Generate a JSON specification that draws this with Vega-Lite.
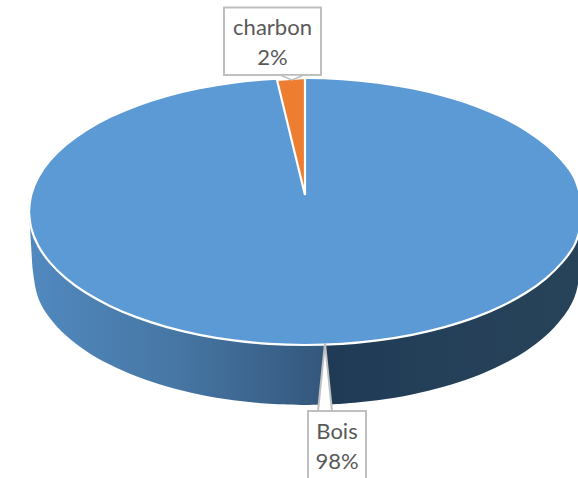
{
"$schema":"https://vega.github.io/schema/vega-lite/v6.json",
"width":578,"height":478,"padding":0,
"autosize":{"type":"fit","contains":"padding"},
"background":"white",
"view":{"stroke":null},
"datasets":{
"wallLeft":[
{"x":29,"y":211.5,"y2":211.5},{"x":30,"y":222,"y2":228},{"x":31.4,"y":229,"y2":250},{"x":33,"y":234,"y2":272},{"x":38.4,"y":246.1,"y2":298.4},{"x":50,"y":262.6,"y2":318.3},{"x":66,"y":278.3,"y2":335.5},{"x":86,"y":292.8,"y2":350.9},{"x":109.8,"y":305.9,"y2":364.6},{"x":137,"y":317.4,"y2":376.6},{"x":167,"y":327.1,"y2":386.6},{"x":199.4,"y":334.8,"y2":394.6},{"x":233.6,"y":340.4,"y2":400.3},{"x":269,"y":343.9,"y2":403.8},{"x":305,"y":345,"y2":405},{"x":325,"y":344.6,"y2":404.6}],
"wallRight":[
{"x":325,"y":344.6,"y2":404.6},{"x":342,"y":343.9,"y2":403.8},{"x":377.5,"y":340.4,"y2":400.3},{"x":412,"y":334.8,"y2":394.6},{"x":444.5,"y":327.1,"y2":386.6},{"x":475,"y":317.4,"y2":376.6},{"x":502,"y":305.9,"y2":364.6},{"x":526,"y":292.8,"y2":350.9},{"x":546,"y":278.3,"y2":335.5},{"x":562,"y":262.6,"y2":318.3},{"x":574,"y":246.1,"y2":298.4},{"x":580,"y":234,"y2":272},{"x":584,"y":211.5,"y2":211.5}],
"face":[
{"x":29,"y":211.5,"y2":211.5},{"x":31.4,"y":194.1,"y2":228.9},{"x":38.4,"y":176.9,"y2":246.1},{"x":50,"y":160.4,"y2":262.6},{"x":66,"y":144.7,"y2":278.3},{"x":86,"y":130.2,"y2":292.8},{"x":109.8,"y":117.1,"y2":305.9},{"x":137,"y":105.6,"y2":317.4},{"x":167,"y":95.9,"y2":327.1},{"x":199.4,"y":88.2,"y2":334.8},{"x":233.6,"y":82.6,"y2":340.4},{"x":269,"y":79.1,"y2":343.9},{"x":305,"y":78,"y2":345},{"x":342,"y":79.1,"y2":343.9},{"x":377.5,"y":82.6,"y2":340.4},{"x":412,"y":88.2,"y2":334.8},{"x":444.5,"y":95.9,"y2":327.1},{"x":475,"y":105.6,"y2":317.4},{"x":502,"y":117.1,"y2":305.9},{"x":526,"y":130.2,"y2":292.8},{"x":546,"y":144.7,"y2":278.3},{"x":562,"y":160.4,"y2":262.6},{"x":574,"y":176.9,"y2":246.1},{"x":580,"y":194.1,"y2":228.9},{"x":584,"y":211.5,"y2":211.5}],
"charbonSlice":[{"x":277,"y":80,"y2":80},{"x":305,"y":78,"y2":195}],
"leaderBois":[{"x":318,"y":411,"y2":411},{"x":325,"y":343,"y2":411},{"x":332,"y":411,"y2":411}],
"leaderCharbon":[{"x":280,"y":75,"y2":75},{"x":292,"y":75,"y2":80},{"x":304,"y":75,"y2":75}],
"boxes":[{"x":224,"x2":321,"y":7.5,"y2":75},{"x":308,"x2":366,"y":411,"y2":490}],
"labels":[{"x":272.5,"y":28,"label":"charbon"},{"x":272.5,"y":57.5,"label":"2%"},{"x":337,"y":432,"label":"Bois"},{"x":337,"y":462,"label":"98%"}]
},
"encoding":{
"x":{"field":"x","type":"quantitative","scale":{"domain":[0,578],"nice":false,"zero":false},"axis":null},
"y":{"field":"y","type":"quantitative","scale":{"domain":[478,0],"nice":false,"zero":false},"axis":null}
},
"layer":[
{"data":{"name":"wallLeft"},"mark":{"type":"area","interpolate":"catmull-rom","clip":true,"color":{"gradient":"linear","x1":0,"x2":1,"y1":0,"y2":0,"stops":[{"offset":0,"color":"#5189bf"},{"offset":0.5,"color":"#4676a4"},{"offset":1,"color":"#34577c"}]}},"encoding":{"y2":{"field":"y2"}}},
{"data":{"name":"wallRight"},"mark":{"type":"area","interpolate":"catmull-rom","clip":true,"color":{"gradient":"linear","x1":0,"x2":1,"y1":0,"y2":0,"stops":[{"offset":0,"color":"#1f3a55"},{"offset":0.4,"color":"#243f58"},{"offset":1,"color":"#274359"}]}},"encoding":{"y2":{"field":"y2"}}},
{"data":{"name":"face"},"mark":{"type":"area","interpolate":"catmull-rom","clip":true,"color":"#5b9ad5","stroke":"white","strokeWidth":2.2},"encoding":{"y2":{"field":"y2"}}},
{"data":{"name":"charbonSlice"},"mark":{"type":"area","clip":true,"color":"#ed7d31","stroke":"white","strokeWidth":2.2},"encoding":{"y2":{"field":"y2"}}},
{"data":{"name":"leaderBois"},"mark":{"type":"area","color":"white","stroke":"#bfbfbf","strokeWidth":2},"encoding":{"y2":{"field":"y2"}}},
{"data":{"name":"boxes"},"mark":{"type":"rect","color":"white","stroke":"#bfbfbf","strokeWidth":2,"clip":true},"encoding":{"x2":{"field":"x2"},"y2":{"field":"y2"}}},
{"data":{"name":"leaderCharbon"},"mark":{"type":"area","color":"white","stroke":"#bfbfbf","strokeWidth":1.5},"encoding":{"y2":{"field":"y2"}}},
{"data":{"name":"labels"},"mark":{"type":"text","font":"Lato","fontSize":22,"color":"#595959","align":"center","baseline":"middle"},"encoding":{"text":{"field":"label"}}}
]
}
